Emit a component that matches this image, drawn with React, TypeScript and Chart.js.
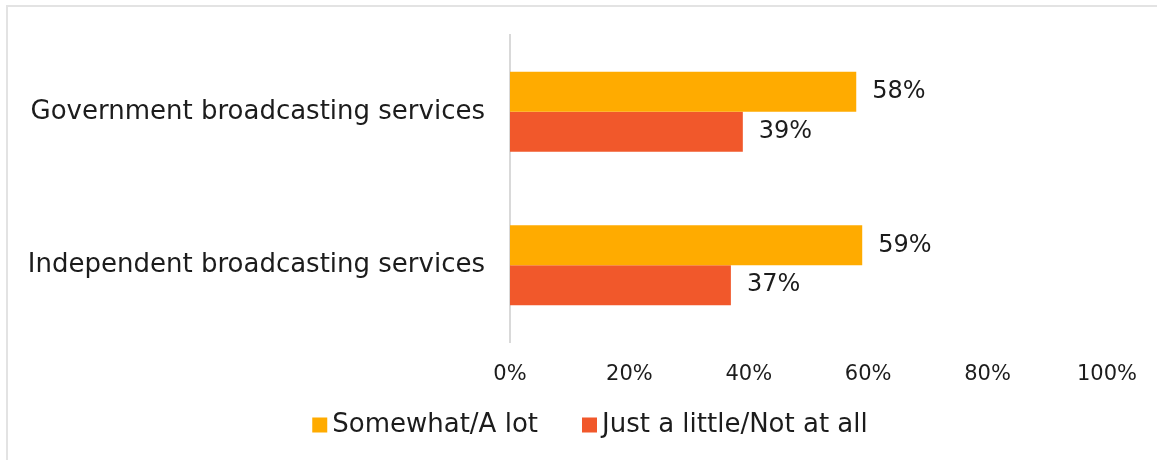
import React, { useEffect, useRef } from "react";
import { Chart, registerables } from "chart.js";

Chart.register(...registerables);

const categories = ["Government broadcasting services", "Independent broadcasting services"];
const seriesNames = ["Somewhat/A lot", "Just a little/Not at all"];
const somewhatValues = [58, 59];
const littleValues = [39, 37];
const xTicks = [0, 20, 40, 60, 80, 100];
const seriesColors = ["#FFAB00", "#F1582B"];

const FONT = "'DejaVu Sans', sans-serif";
const TEXT = "#1c1c1c";

export default function App() {
  const ref = useRef<HTMLCanvasElement | null>(null);

  useEffect(() => {
    if (!ref.current) return;
    const labelPlugin = {
      id: "valueLabels",
      afterDatasetsDraw(chart: any) {
        const ctx = chart.ctx;
        ctx.save();
        ctx.font = `24px ${FONT}`;
        ctx.fillStyle = TEXT;
        ctx.textAlign = "left";
        ctx.textBaseline = "middle";
        chart.data.datasets.forEach((ds: any, di: number) => {
          const meta = chart.getDatasetMeta(di);
          meta.data.forEach((el: any, i: number) => {
            ctx.fillText(`${ds.data[i]}%`, el.x + 16, el.y);
          });
        });
        ctx.restore();
      },
    };

    const legendPlugin = {
      id: "customLegend",
      afterDraw(chart: any) {
        const ctx = chart.ctx;
        ctx.save();
        ctx.font = `26px ${FONT}`;
        ctx.textBaseline = "middle";
        ctx.textAlign = "left";
        const box = 15;
        const gapText = 5;
        const gapItem = 44;
        const items = chart.data.datasets.map((ds: any) => ({
          text: ds.label,
          color: ds.backgroundColor,
          w: box + gapText + ctx.measureText(ds.label).width,
        }));
        const total = items.reduce((s: number, it: any) => s + it.w, 0) + gapItem * (items.length - 1);
        let x = 590 - total / 2;
        const cy = 425;
        items.forEach((it: any) => {
          ctx.fillStyle = it.color;
          ctx.fillRect(x, cy - box / 2, box, box);
          ctx.fillStyle = TEXT;
          ctx.fillText(it.text, x + box + gapText, cy);
          x += it.w + gapItem;
        });
        ctx.restore();
      },
    };

    const chart = new Chart(ref.current, {
      type: "bar",
      data: {
        labels: categories,
        datasets: [
          {
            label: seriesNames[0],
            data: somewhatValues,
            backgroundColor: seriesColors[0],
            categoryPercentage: 0.52,
            barPercentage: 1,
          },
          {
            label: seriesNames[1],
            data: littleValues,
            backgroundColor: seriesColors[1],
            categoryPercentage: 0.52,
            barPercentage: 1,
          },
        ],
      },
      options: {
        indexAxis: "y",
        responsive: false,
        animation: false,
        layout: { padding: { left: 0, right: 50, top: 35, bottom: 57 } },
        scales: {
          x: {
            min: 0,
            max: 100,
            afterBuildTicks(scale: any) {
              scale.ticks = xTicks.map((v) => ({ value: v }));
            },
            afterFit(scale: any) {
              scale.height = 61;
            },
            grid: { display: false, drawTicks: false },
            border: { display: false },
            ticks: {
              padding: 20,
              color: TEXT,
              font: { family: FONT, size: 21 },
              callback: (v: any) => `${v}%`,
            },
          },
          y: {
            afterFit(scale: any) {
              scale.width = 510;
              scale.paddingTop = 0;
              scale.paddingBottom = 0;
            },
            grid: { display: false, drawTicks: false },
            border: { display: true, color: "#d9d9d9", width: 2 },
            ticks: {
              padding: 25,
              color: TEXT,
              font: { family: FONT, size: 26 },
            },
          },
        },
        plugins: {
          legend: { display: false },
          tooltip: { enabled: false },
        },
      },
      plugins: [labelPlugin, legendPlugin],
    } as any);
    return () => chart.destroy();
  }, []);

  return (
    <div style={{ position: "absolute", left: 0, top: 0, width: 1157, height: 460, background: "#fff", overflow: "hidden" }}>
      <div
        style={{
          position: "absolute",
          left: 6,
          top: 5,
          right: -10,
          bottom: -10,
          borderLeft: "2px solid #e3e3e3",
          borderTop: "2px solid #e3e3e3",
        }}
      />
      <canvas ref={ref} width={1157} height={460} style={{ position: "absolute", left: 0, top: 0 }} />
    </div>
  );
}
